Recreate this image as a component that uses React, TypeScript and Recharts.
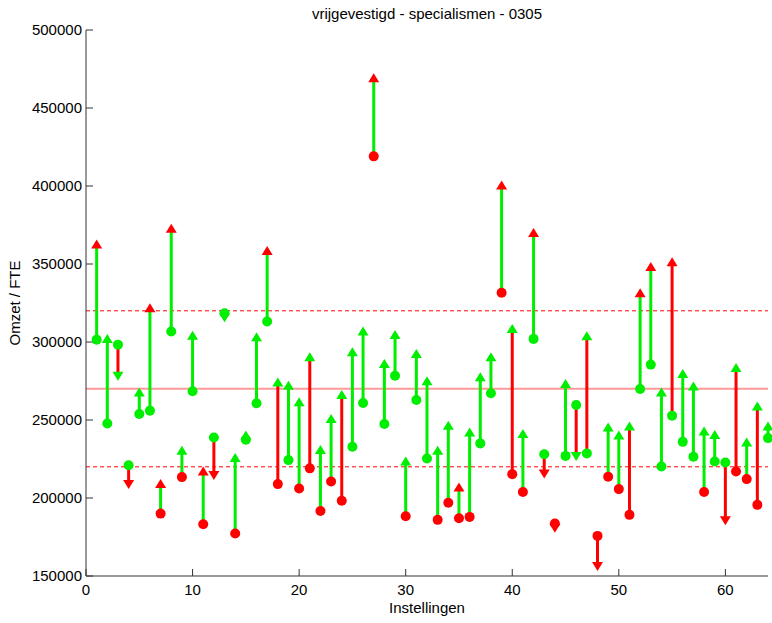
import { ReferenceLine, Scatter, ScatterChart, XAxis, YAxis } from "recharts";

// Instellingen 1..64: omzet/FTE vóór (cirkel) en na (pijlpunt)
const institutions = Array.from({ length: 64 }, (_, i) => i + 1);

const startValues = [
  301500, 247800, 298300, 221000, 253800, 256000, 190000, 306700, 213400, 268400,
  183200, 238800, 318400, 177200, 237300, 260700, 313100, 208900, 224300, 206100,
  219000, 191700, 210600, 198200, 232800, 260900, 419000, 247400, 278400, 188300,
  262800, 225300, 186000, 196900, 187000, 187900, 235000, 267100, 331600, 215300,
  203900, 302000, 228100, 183600, 227000, 259600, 228600, 175700, 213600, 205700,
  189200, 269900, 285500, 220200, 252800, 236000, 226400, 203900, 223400, 222800,
  217000, 212100, 195600, 238400,
];

const endValues = [
  362500, 302000, 278400, 208900, 267700, 321700, 208900, 372600, 230300, 304000,
  217000, 214800, 315900, 225600, 240000, 303000, 358300, 274100, 272000, 261300,
  290200, 230700, 250600, 266000, 293400, 306700, 469000, 285900, 304500, 223400,
  292300, 274800, 230300, 246300, 206700, 242000, 277400, 290200, 400400, 308400,
  241000, 369800, 215700, 181000, 273100, 227000, 303700, 156400, 245200, 240000,
  245900, 331300, 348000, 267700, 351200, 279500, 271400, 242700, 240400, 185800,
  283400, 235600, 258700, 245900,
];

// kleur van de verbindingslijn per instelling (g = groen, r = rood)
const lineColors = [
  "g", "g", "r", "r", "g", "g", "g", "g", "g", "g",
  "g", "r", "r", "g", "g", "g", "g", "r", "g", "g",
  "r", "g", "g", "r", "g", "g", "g", "g", "g", "g",
  "g", "g", "g", "g", "g", "g", "g", "g", "g", "r",
  "g", "g", "r", "r", "g", "r", "r", "r", "g", "g",
  "r", "g", "g", "g", "r", "g", "g", "g", "g", "r",
  "r", "g", "r", "g",
];

const bandLow = 220000;
const bandMid = 270000;
const bandHigh = 320000;

const xTicks = [0, 10, 20, 30, 40, 50, 60];
const yTicks = [150000, 200000, 250000, 300000, 350000, 400000, 450000, 500000];

const GREEN = "#00ee00";
const RED = "#ff0000";
const FONT = "'Liberation Sans', Arial, sans-serif";

const inBand = (v: number) => (v >= bandLow && v <= bandHigh ? GREEN : RED);

const series = institutions.map((id, i) => {
  const s = startValues[i];
  const e = endValues[i];
  return {
    id,
    line: lineColors[i] === "g" ? GREEN : RED,
    points: [
      { x: id, y: s, kind: "start", color: inBand(s) },
      { x: id, y: e, kind: "end", color: inBand(e), up: e >= s },
    ],
  };
});

function Marker(props: any) {
  const { cx, cy, payload } = props;
  if (cx == null || cy == null) return null;
  if (payload.kind === "start") {
    return <circle cx={cx} cy={cy} r={5} fill={payload.color} />;
  }
  const d = payload.up
    ? `M${cx},${cy - 5} L${cx - 5.5},${cy + 4} L${cx + 5.5},${cy + 4} Z`
    : `M${cx},${cy + 5} L${cx - 5.5},${cy - 4} L${cx + 5.5},${cy - 4} Z`;
  return <path d={d} fill={payload.color} />;
}

export default function App() {
  return (
    <div style={{ position: "absolute", left: 0, top: 0, width: 772, height: 623, background: "#fff" }}>
      <div
        style={{
          position: "absolute",
          left: 86,
          width: 682,
          top: 5,
          textAlign: "center",
          fontFamily: FONT,
          fontSize: 15,
          lineHeight: "17px",
          color: "#000",
        }}
      >
        vrijgevestigd - specialismen - 0305
      </div>
      <ScatterChart width={772} height={623} margin={{ top: 30, right: 4, bottom: 0, left: 0 }}>
        <XAxis
          type="number"
          dataKey="x"
          domain={[0, 64]}
          ticks={xTicks}
          height={47}
          stroke="#333"
          tickSize={-7}
          tickMargin={15}
          tick={{ fill: "#000", fontSize: 15, fontFamily: FONT }}
          label={{
            value: "Instellingen",
            position: "center",
            dy: 8,
            fill: "#000",
            fontSize: 15,
            fontFamily: FONT,
          }}
        />
        <YAxis
          type="number"
          dataKey="y"
          domain={[150000, 500000]}
          ticks={yTicks}
          width={86}
          stroke="#333"
          tickSize={-7}
          tickMargin={11}
          tick={{ fill: "#000", fontSize: 15, fontFamily: FONT }}
          label={{
            value: "Omzet / FTE",
            angle: -90,
            position: "center",
            dx: -28,
            fill: "#000",
            fontSize: 15,
            fontFamily: FONT,
          }}
        />
        {series.map((s) => (
          <Scatter
            key={s.id}
            data={s.points}
            fill={s.line}
            line={{ stroke: s.line, strokeWidth: 3 }}
            shape={<Marker />}
            isAnimationActive={false}
          />
        ))}
        <ReferenceLine y={bandMid} stroke="#ff0000" strokeOpacity={0.4} strokeWidth={2} />
        <ReferenceLine y={bandLow} stroke="#ff0000" strokeWidth={1} strokeDasharray="4 3" />
        <ReferenceLine y={bandHigh} stroke="#ff0000" strokeWidth={1} strokeDasharray="4 3" />
      </ScatterChart>
    </div>
  );
}
